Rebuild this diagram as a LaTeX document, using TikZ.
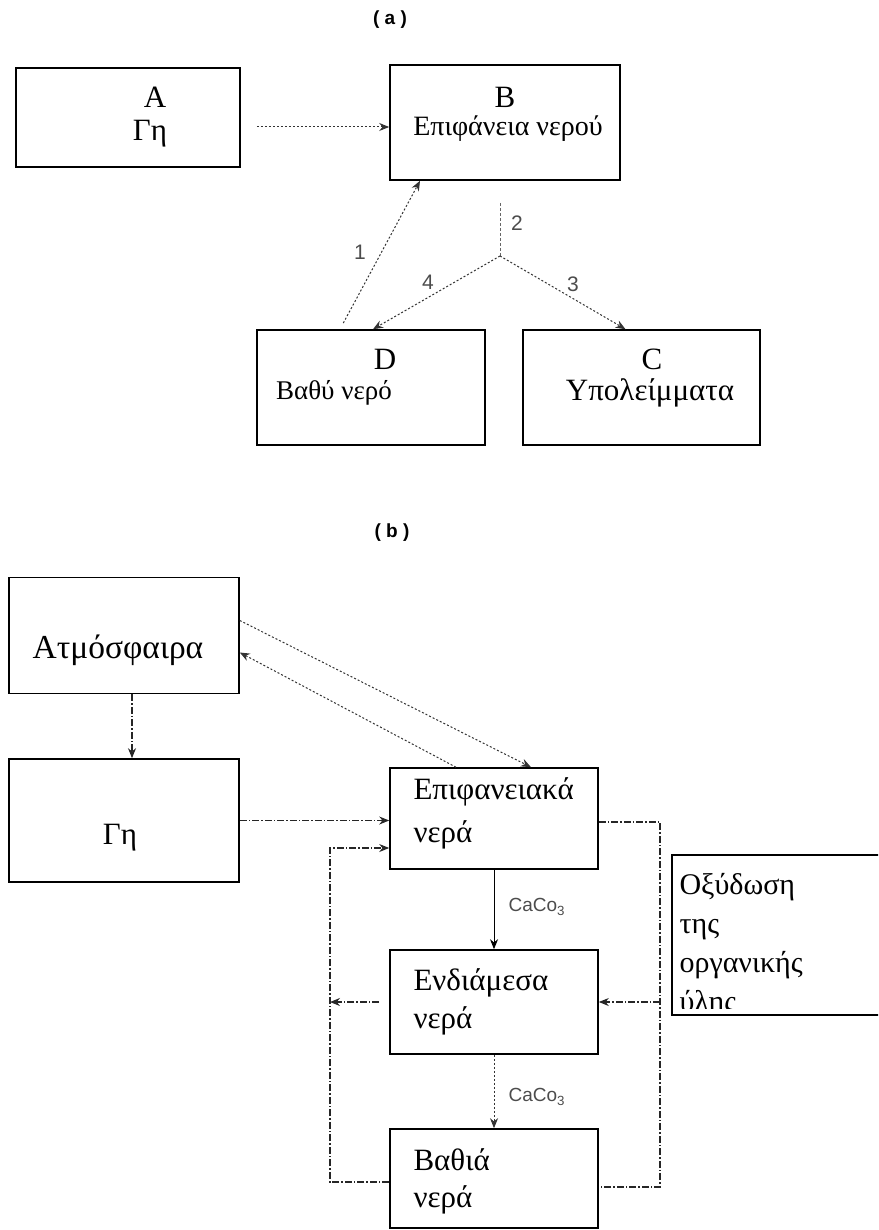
\documentclass[tikz,border=0pt]{standalone}
\usepackage{fontspec}
\setmainfont{Liberation Serif}
\newfontfamily\labelfont{Liberation Sans}
\usetikzlibrary{arrows.meta}

\tikzset{
  box/.style={draw, line width=1.6pt, inner sep=0pt},
  flow/.style={line width=1pt, black!80, dash pattern=on 2pt off 2pt, -{Stealth[length=10pt,width=8pt]}},
  trunk/.style={line width=1pt, black!60, dash pattern=on 3pt off 2pt},
  loopline/.style={line width=1.1pt, black!85, dash pattern=on 7pt off 2pt on 1.5pt off 2pt},
  loopflow/.style={loopline, -{Stealth[length=10pt,width=8pt]}},
  big/.style={font=\fontsize{31}{36}\selectfont},
  mid/.style={font=\fontsize{27}{32}\selectfont},
  tag/.style={font=\labelfont\fontsize{21}{24}\selectfont, black!70},
  partlabel/.style={font=\labelfont\bfseries\fontsize{19}{22}\selectfont},
}

\begin{document}
\begin{tikzpicture}[x=1pt, y=-1pt]
    \useasboundingbox (0,0) rectangle (878,1230);
    \clip (0,0) rectangle (878,1230);

    % Part (a): boxes
    \node[partlabel] (capa) at (390,20) {( a )};
    \node[box, minimum width=224pt, minimum height=99pt] (A) at (128,117.5) {};
    \node[box, minimum width=230pt, minimum height=115pt] (B) at (505,122.5) {};
    \node[box, minimum width=228pt, minimum height=115pt] (D) at (371,387.5) {};
    \node[box, minimum width=237pt, minimum height=115pt] (C) at (641.5,387.5) {};

    \node[big] (Alab) at (155,97) {A};
    \node[big] (Atxt) at (150,134) {Γη};
    \node[big] (Blab) at (505,97) {B};
    \node[mid, font=\fontsize{28}{32}\selectfont] (Btxt) at (508,129) {Επιφάνεια νερού};
    \node[big] (Dlab) at (385,359) {D};
    \node[mid] (Dtxt) at (334,393) {Βαθύ νερό};
    \node[big] (Clab) at (652,359) {C};
    \node[big] (Ctxt) at (650,393) {Υπολείμματα};

    % Part (a): flows
    \coordinate (J) at (500,256);
    \draw[flow, shorten <=16pt] (A.east |- 0,127) -- (B.west |- 0,127);
    \draw[trunk, shorten <=22pt] (B.south -| J) -- (J);
    \draw[flow] (J) -- ([xshift=2pt]D.north);
    \draw[flow] (J) -- ([xshift=-16pt]C.north);
    \draw[flow, shorten <=7pt] ([xshift=-31pt]D.north) -- ([xshift=-85pt]B.south);
    \foreach \n/\x/\y in {1/360/252, 2/517/223, 3/573/284, 4/428/282}
      \node[tag] (num\n) at (\x,\y) {\n};

    % Part (b): boxes
    \node[partlabel] (capb) at (392,533) {( b )};
    \node[box, minimum width=230pt, minimum height=116pt] (Atm) at (124,635.5) {};
    \node[box, minimum width=230pt, minimum height=123pt] (Ge) at (124,820.5) {};
    \node[box, minimum width=208pt, minimum height=101pt] (Epif) at (494,818.5) {};
    \node[box, minimum width=208pt, minimum height=104pt] (Endi) at (494,1002) {};
    \node[box, minimum width=208pt, minimum height=99pt] (Vath) at (494,1178.5) {};
    \node[box, minimum width=228pt, minimum height=160pt] (Oxid) at (786,935) {};

    \node[big, font=\fontsize{33.5}{38}\selectfont] (Atmtxt) at (118,650) {Ατμόσφαιρα};
    \node[big] (Getxt) at (120,838) {Γη};
    \node[big, anchor=west] (Epif1) at (410,792) {Επιφανειακά};
    \node[big, anchor=west] (Epif2) at (410,835) {νερά};
    \node[big, anchor=west] (Endi1) at (410,983) {Ενδιάμεσα};
    \node[big, anchor=west] (Endi2) at (410,1021) {νερά};
    \node[big, anchor=west] (Vath1) at (410,1160) {Βαθιά};
    \node[big, anchor=west] (Vath2) at (410,1200) {νερά};
    \begin{scope}
      \clip (Oxid.north west) rectangle (Oxid.east |- 0,1008);
      \node[big, anchor=north west, align=left, font=\fontsize{30}{39}\selectfont]
        (Oxidtxt) at (676,870) {Οξύδωση\\της\\οργανικής\\ύλης};
    \end{scope}

    % Part (b): flows
    \draw[loopflow] ([xshift=8pt]Atm.south) -- ([xshift=8pt]Ge.north);
    \draw[flow] ([yshift=15pt]Atm.east) -- ([xshift=37pt]Epif.north);
    \draw[flow] ([xshift=-38pt]Epif.north) -- ([yshift=-17pt]Atm.east);
    \draw[loopflow] (Ge.east) -- (Ge.east -| Epif.west);
    \draw[-{Stealth[length=10pt,width=8pt]}, line width=1pt] (Epif.south) -- (Endi.north);
    \draw[flow] (Endi.south) -- (Vath.north);
    \foreach \y/\lab in {907/cc1, 1097/cc2}
      \node[tag, anchor=west, font=\labelfont\fontsize{19}{22}\selectfont] (\lab) at (505,\y) {CaCo\textsubscript{3}};

    \coordinate (R1) at (660,822);
    \coordinate (R2) at (660,1187);
    \coordinate (L1) at (330,848);
    \coordinate (L2) at (330,1182);
    \draw[loopline] (Epif.east |- R1) -- (R1) -- (R2) -- (Vath.east |- R2);
    \draw[loopflow] (R1 |- Endi.east) -- (Endi.east);
    \draw[loopflow] (Vath.west |- L2) -- (L2) -- (L1) -- (Epif.west |- L1);
    \draw[loopflow, shorten <=10pt] (Endi.west) -- (L1 |- Endi.west);
\end{tikzpicture}
\end{document}
